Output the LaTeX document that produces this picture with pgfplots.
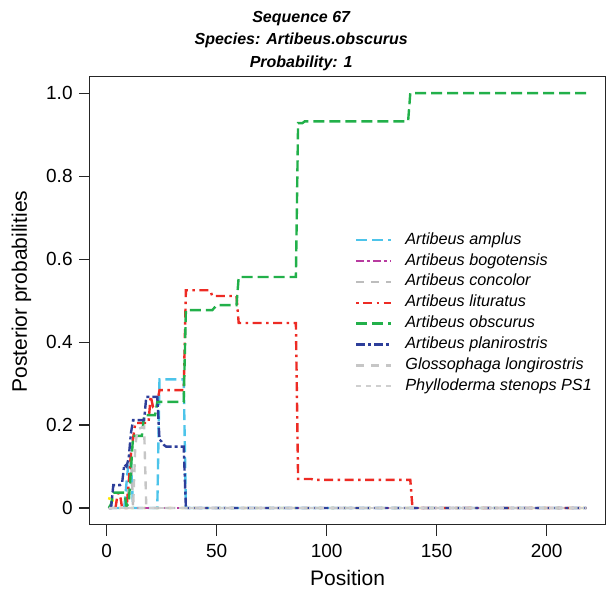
\documentclass[border=0pt]{standalone}
\usepackage{fontspec}
\setmainfont{Liberation Sans}
\usepackage{pgfplots}
\pgfplotsset{compat=1.18}

\definecolor{camplus}{HTML}{4DC4EA}
\definecolor{cbogot}{HTML}{B83BA0}
\definecolor{cconcol}{HTML}{BDBDBD}
\definecolor{clitur}{HTML}{ED2B24}
\definecolor{cobsc}{HTML}{22B04A}
\definecolor{cplani}{HTML}{2D3E9A}
\definecolor{cgloss}{HTML}{C6C6C6}
\definecolor{cphyl}{HTML}{CFCFCF}
\definecolor{cyell}{HTML}{FFE600}

\begin{document}
\begin{tikzpicture}
\begin{axis}[
    scale only axis,
    width=515.6pt, height=448pt,
    xmin=-7.68, xmax=226.68, ymin=-0.04, ymax=1.04,
    xtick={0,50,100,150,200},
    ytick={0,0.2,0.4,0.6,0.8,1},
    yticklabels={0,0.2,0.4,0.6,0.8,1.0},
    tick align=outside, major tick length=11pt,
    xtick pos=bottom, ytick pos=left,
    axis line style={line width=1.1pt, black!85},
    every tick/.style={line width=1.1pt, black!85},
    /pgf/number format/assume math mode=true,
    tick label style={font=\fontsize{19}{22}\selectfont, inner sep=0pt},
    xticklabel style={anchor=north, yshift=-8pt},
    yticklabel style={anchor=east, xshift=-6pt},
    label style={font=\fontsize{21}{24}\selectfont, inner sep=0pt},
    xlabel={Position},
    ylabel={Posterior probabilities},
    xlabel style={at={(axis description cs:0.5,-0.1359)}, anchor=base},
    ylabel style={at={(axis description cs:-0.1218,0.52)}, anchor=base},
    title={Sequence 67\\Species: Artibeus.obscurus\\Probability: 1},
    title style={at={(axis description cs:0.41,1.0)}, anchor=south,
        inner sep=0pt, align=center,
        font=\bfseries\itshape\fontsize{16}{22.5}\selectfont},
    legend style={at={(axis description cs:0.514,0.653)}, anchor=north west,
        draw=none, fill=none, inner sep=0pt, row sep=4.85pt,
        font=\itshape\fontsize{16.2}{19}\selectfont,
        nodes={inner sep=0pt, text height=12pt, text depth=4pt},
        /tikz/every odd column/.append style={column sep=13pt}},
    legend cell align=left,
    legend image code/.code={\draw[#1] (0pt,0pt) -- (35pt,0pt);},
    every axis plot/.append style={line width=2.4pt},
]
% yellow series along the baseline (no legend entry)
\addplot[forget plot, no marks, cyell, dash pattern=on 2.5pt off 10pt]
  coordinates {(1,0.02) (2,0.035) (3,0.01) (4,0) (218,0)};

\addplot[no marks, camplus, dash pattern=on 11pt off 5pt]
  coordinates {(1,0) (8,0) (9,0.06) (10,0.115) (11,0.115) (12,0) (23,0)
    (24,0.31) (35,0.31) (36,0) (218,0)};
\addlegendentry{Artibeus amplus}

\addplot[no marks, cbogot, dash pattern=on 8pt off 3pt on 3pt off 3pt]
  coordinates {(1,0) (218,0)};
\addlegendentry{Artibeus bogotensis}

\addplot[no marks, cconcol, dash pattern=on 8pt off 7pt]
  coordinates {(1,0) (9,0) (10,0.05) (11,0.136) (12,0) (218,0)};
\addlegendentry{Artibeus concolor}

\addplot[no marks, clitur, dash pattern=on 2.5pt off 4.5pt on 9pt off 4.5pt]
  coordinates {(1,0) (4,0) (5,0.035) (6,0.035) (7,0) (9,0) (10,0.06) (11,0.13)
    (13,0.205) (19,0.205) (20,0.27) (21,0.245) (23,0.255) (24,0.284) (35,0.284)
    (36,0.525) (47,0.525) (48,0.511) (59,0.511) (60,0.446) (86,0.446)
    (87,0.07) (93,0.07) (94,0.068) (138,0.068) (139,0) (218,0)};
\addlegendentry{Artibeus lituratus}

\addplot[no marks, cobsc, dash pattern=on 11pt off 5pt]
  coordinates {(1,0) (2,0.01) (3,0.037) (8,0.037) (9,0.005) (10,0.01) (11,0.09)
    (12,0.174) (16,0.174) (17,0.224) (22,0.224) (23,0.256) (35,0.256)
    (36,0.477) (48,0.477) (50,0.489) (59,0.489) (60,0.557) (86,0.557)
    (87,0.928) (89,0.928) (90,0.932) (137,0.932) (138,1.0) (218,1.0)};
\addlegendentry{Artibeus obscurus}

\addplot[no marks, cplani, dash pattern=on 9pt off 3pt on 3pt off 3pt]
  coordinates {(1,0) (2,0) (3,0.055) (6,0.055) (7,0.06) (8,0.105) (9,0.1)
    (10,0.12) (11,0.18) (12,0.212) (17,0.212) (18,0.268) (23,0.268)
    (24,0.165) (25,0.16) (26,0.152) (27,0.148) (35,0.148) (36,0) (218,0)};
\addlegendentry{Artibeus planirostris}

\addplot[no marks, cgloss, dash pattern=on 8pt off 7pt]
  coordinates {(1,0) (12,0) (13,0.15) (14,0.19) (17,0.196) (18,0) (218,0)};
\addlegendentry{Glossophaga longirostris}

\addplot[no marks, cphyl, dash pattern=on 5pt off 5pt]
  coordinates {(1,0) (218,0)};
\addlegendentry{Phylloderma stenops PS1}
\end{axis}
\pgfresetboundingbox
\useasboundingbox ([shift={(-89.8pt,-65.4pt)}]current axis.south west) rectangle ++(606pt,590pt);
\end{tikzpicture}
\end{document}
